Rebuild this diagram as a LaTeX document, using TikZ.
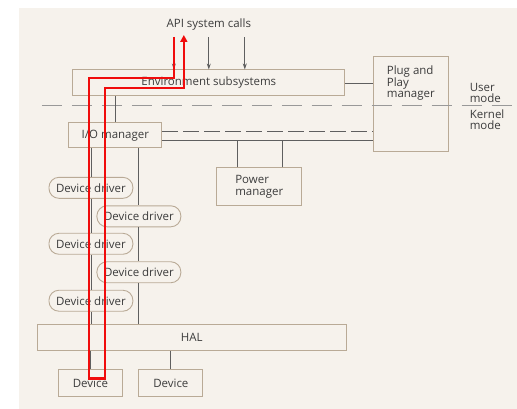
\documentclass[tikz,border=0pt]{standalone}
\usepackage{fontspec}
\setmainfont{Open Sans}
\usepackage{tikz}
\usetikzlibrary{arrows.meta,positioning}
\usepackage{xcolor}
\definecolor{paper}{RGB}{246,242,236}
\definecolor{boxline}{RGB}{185,170,150}
\definecolor{wireline}{RGB}{95,95,95}
\definecolor{inktext}{RGB}{60,60,60}
\definecolor{pathred}{RGB}{240,12,12}
\tikzstyle{block} = [draw=boxline, line width=0.9pt, fill=paper, text=inktext, inner sep=2pt]
\tikzstyle{driver} = [block, rounded corners=10pt, minimum width=84pt, minimum height=21pt]
\tikzstyle{wire} = [draw=wireline, line width=0.8pt]
\tikzstyle{call} = [wire, -{Stealth[length=6pt,width=4pt]}]
\tikzstyle{route} = [draw=pathred, line width=2.6pt, -{Triangle[length=7pt,width=7pt]}]

\begin{document}
\begin{tikzpicture}[x=1pt, y=-1pt, font=\fontsize{11.5}{11.5}\selectfont, text=inktext]
% Page and paper
\fill[white] (0,0) rectangle (517,409);
\fill[paper] (19,8) rectangle (517,409);

% Boxes
\node (api) at (209,25) {API system calls};
\node[block, minimum width=272pt, minimum height=26pt] (env) at (209,83) {Environment subsystems};
\node[block, minimum width=75pt, minimum height=95pt] (pnp) at (411,104.5) {};
\node[anchor=north west, align=left, inner sep=0pt] (pnptext) at (387,66) {Plug and\\Play\\manager};
\node[block, minimum width=93pt, minimum height=25pt] (io) at (115.5,135.5) {I/O manager};
\node[block, minimum width=85pt, minimum height=38pt, align=left] (pwr) at (259.5,187) {Power\\manager};
\node[block, minimum width=310pt, minimum height=26pt] (hal) at (192,337.5) {HAL};
\node[block, minimum width=65pt, minimum height=27pt] (dev1) at (90.5,383.5) {Device};
\node[block, minimum width=64pt, minimum height=27pt] (dev2) at (171,383.5) {Device};

% Device drivers
\node[driver] (drv1) at (91,188) {Device driver};
\node[driver] (drv2) at (139,216.5) {Device driver};
\node[driver] (drv3) at (91,244) {Device driver};
\node[driver] (drv4) at (139,272.5) {Device driver};
\node[driver] (drv5) at (91,301) {Device driver};

% User/kernel boundary
\draw[gray!80, line width=0.9pt, dash pattern=on 20pt off 10pt] (42,106) -- (517,106);

% Mode labels
\node[anchor=north west, align=left, inner sep=0pt] (umode) at (470,83) {User\\mode};
\node[anchor=north west, align=left, inner sep=0pt] (kmode) at (470,109.5) {Kernel\\mode};

% System calls
\foreach \dx in {-35,0,36}
  \draw[call] ([xshift=\dx pt, yshift=-3pt]api.south) -- ([xshift=\dx pt]api.south |- env.north);

% Connections
\draw[wire] (env.east) -- (env.east -| pnp.west);
\draw[wire] (io.north |- env.south) -- (io.north);
\draw[wire, dash pattern=on 16pt off 5pt] ([yshift=3.5pt]io.east) -- ([yshift=3.5pt]io.east -| pnp.west);
\coordinate (iolow) at ([yshift=-5.5pt]io.east);
\draw[wire] (iolow) -- (iolow -| pnp.west);
\draw[wire] ([xshift=21pt]pwr.north west) -- ([xshift=21pt]pwr.north west |- iolow);
\draw[wire] ([xshift=-20pt]pwr.north east) -- ([xshift=-20pt]pwr.north east |- iolow);

% Driver stacks
\draw[wire] (io.south -| drv1.north) -- (drv1.north);
\draw[wire] (drv1) -- (drv3);
\draw[wire] (drv3) -- (drv5);
\draw[wire] (drv5.south) -- (drv5.south |- hal.north);
\draw[wire] (io.south -| drv2.north) -- (drv2.north);
\draw[wire] (drv2) -- (drv4);
\draw[wire] (drv4.south) -- (drv4.south |- hal.north);
\draw[wire] (hal.south -| dev1.north) -- (dev1.north);
\draw[wire] (hal.south -| dev2.north) -- (dev2.north);

% Request path
\coordinate (redin) at (174,37);
\coordinate (redout) at (184,35);
\draw[route] (redin) -- (174,78) -| (89,379) -| (105,88) -| (redout);
\end{tikzpicture}
\end{document}
